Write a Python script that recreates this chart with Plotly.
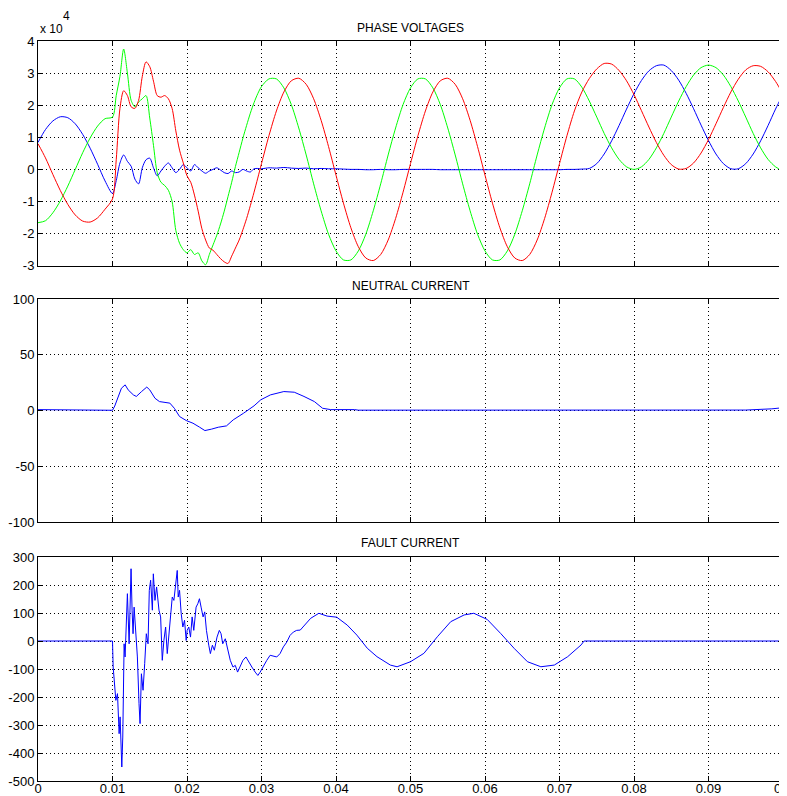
import plotly.graph_objects as go

# ---------------- data ----------------
# Phase voltages, time in ms, values in units of 1e4 V
V_T_PRE = [0, 1, 2, 3, 4, 5, 6, 7, 8, 9, 10]
V_T_TR = [10.5, 11.0, 11.5, 12.0, 12.5, 13.0, 13.5, 14.0, 14.5, 15.0,
          15.5, 16.0, 16.5, 17.0, 17.5, 18.0, 18.5, 19.0, 19.5, 20.0,
          20.5, 21.0, 21.5, 22.0, 22.5, 23.0, 23.5, 24.0, 24.5, 25.0,
          25.5, 26.0, 26.5, 27.0, 27.5, 28.0, 28.5, 29.0, 29.5, 30.0]
V_T_POST = [31, 32, 33, 34, 35, 36, 37, 38, 39, 40,
            41, 42, 43, 44, 45, 46, 47, 48, 49, 50,
            51, 52, 53, 54, 55, 56, 57, 58, 59, 60,
            61, 62, 63, 64, 65, 66, 67, 68, 69, 70,
            71, 72, 73, 74, 75, 76, 77, 78, 79, 80,
            81, 82, 83, 84, 85, 86, 87, 88, 89, 90,
            91, 92, 93, 94, 95, 96, 97, 98, 99, 100]

BLUE_PRE = [0.84, 1.24, 1.51, 1.64, 1.61, 1.42, 1.09, 0.66, 0.16, -0.36, -0.75]
BLUE_TR = [-0.35, 0.2, 0.45, 0.25, 0.1, -0.3, -0.45, 0.05, 0.3, 0.35,
           0.05, -0.2, -0.05, 0.1, 0.2, 0.05, -0.1, 0.0, 0.15, 0.05,
           -0.05, 0.15, 0.05, -0.05, -0.12, -0.05, 0.0, 0.05, -0.02, -0.1,
           -0.13, -0.05, -0.1, -0.08, 0.0, -0.05, -0.08, 0.02, 0.03, 0.02]
BLUE_POST = [0.05, 0.04, 0.06, 0.04, 0.03, 0.04, 0.02, 0.03, 0.02, 0.02,
             0.01, 0.0, 0.0, -0.01, -0.01, 0.0, -0.01, -0.01, 0.0, 0.0,
             0.0, 0.0, 0.0, -0.01, -0.01, -0.01, -0.01, -0.01, -0.01, -0.01,
             -0.01, -0.01, -0.01, -0.01, -0.01, -0.01, -0.01, -0.01, -0.01, -0.01,
             0.0, 0.0, 0.01, 0.03, 0.18, 0.48, 0.89, 1.37, 1.88, 2.36,
             2.77, 3.07, 3.23, 3.25, 3.08, 2.78, 2.37, 1.89, 1.38, 0.9,
             0.48, 0.18, 0.02, 0.02, 0.18, 0.48, 0.89, 1.37, 1.88, 2.34]

RED_PRE = [0.80, 0.36, -0.16, -0.66, -1.09, -1.42, -1.61, -1.64, -1.51, -1.24, -0.92]
RED_TR = [0.3, 1.9, 2.45, 2.3, 1.95, 1.9, 2.15, 2.9, 3.35, 3.2,
          2.75, 2.3, 2.25, 2.3, 2.2, 1.9, 1.2, 0.6, 0.2, -0.2,
          -0.4, -0.8, -1.3, -1.85, -2.2, -2.45, -2.52, -2.65, -2.78, -2.88,
          -2.93, -2.7, -2.45, -2.2, -1.88, -1.53, -1.13, -0.71, -0.27, 0.18]
RED_POST = [1.05, 1.82, 2.41, 2.76, 2.84, 2.65, 2.20, 1.53, 0.71, -0.18,
            -1.05, -1.82, -2.41, -2.76, -2.84, -2.65, -2.20, -1.53, -0.71, 0.18,
            1.05, 1.82, 2.41, 2.76, 2.84, 2.65, 2.20, 1.53, 0.71, -0.18,
            -1.05, -1.82, -2.41, -2.76, -2.84, -2.65, -2.20, -1.53, -0.71, 0.18,
            1.05, 1.82, 2.41, 2.83, 3.13, 3.30, 3.28, 3.08, 2.76, 2.33,
            1.83, 1.32, 0.84, 0.44, 0.15, 0.01, 0.03, 0.20, 0.51, 0.93,
            1.42, 1.93, 2.41, 2.81, 3.10, 3.23, 3.21, 3.04, 2.74, 2.35]

GREEN_PRE = [-1.66, -1.60, -1.35, -0.98, -0.52, 0.0, 0.52, 0.98, 1.35, 1.58, 1.63]
GREEN_TR = [2.3, 2.9, 3.75, 3.0, 2.15, 1.95, 2.1, 2.2, 2.3, 1.6,
            0.75, -0.1, -0.4, -0.5, -0.65, -1.0, -1.9, -2.3, -2.5, -2.6,
            -2.5, -2.65, -2.6, -2.85, -2.97, -2.65, -2.35, -2.05, -1.7, -1.3,
            -0.85, -0.4, 0.09, 0.53, 0.97, 1.37, 1.75, 2.08, 2.36, 2.58]
GREEN_POST = [2.82, 2.82, 2.54, 2.02, 1.29, 0.45, -0.45, -1.29, -2.02, -2.54,
              -2.82, -2.82, -2.54, -2.02, -1.29, -0.45, 0.45, 1.29, 2.02, 2.54,
              2.82, 2.82, 2.54, 2.02, 1.29, 0.45, -0.45, -1.29, -2.02, -2.54,
              -2.82, -2.82, -2.54, -2.02, -1.29, -0.45, 0.45, 1.29, 2.02, 2.54,
              2.82, 2.82, 2.56, 2.13, 1.63, 1.12, 0.67, 0.31, 0.08, 0.0,
              0.08, 0.31, 0.67, 1.12, 1.63, 2.13, 2.58, 2.94, 3.17, 3.25,
              3.17, 2.94, 2.58, 2.13, 1.63, 1.12, 0.67, 0.31, 0.08, -0.05]

# Neutral current (ms, A)
N_T = [0, 2.5, 3.0, 10.0, 10.3, 10.6, 11.2, 11.7, 12.1, 12.8,
       13.2, 13.9, 14.6, 15.0, 15.7, 16.3, 17.2, 17.7, 18.3, 19.0,
       19.9, 20.8, 21.7, 22.4, 23.3, 24.2, 25.3, 26.2, 27.6, 29.0,
       29.9, 31.2, 33.0, 34.4, 35.7, 37.1, 38.2, 39.3, 42.5, 43.0,
       95.0, 97.0, 98.5, 100.0]
N_V = [0.8, 0.8, 0.2, 0.2, 4, 9.6, 20, 23, 18.5, 14,
       12.6, 17, 21, 18.5, 11, 8, 7.5, 6.6, 2, -5.4,
       -9, -11.4, -15, -18, -16.7, -15, -13.8, -8.4, -2.4, 4.2,
       9.6, 14, 17, 16.4, 12.6, 8, 2, 0.8, 0.8, 0.3,
       0.4, 0.8, 1.5, 2.5]

# Fault current (ms, A)
F_T = [0, 10.0, 10.09, 10.22, 10.45, 10.67, 10.76, 10.89, 11.02, 11.11,
       11.25, 11.38, 11.47, 11.56, 11.69, 11.83, 12.0, 12.23, 12.36, 12.49,
       12.63, 12.76, 12.9, 13.12, 13.34, 13.56, 13.7, 13.88, 14.1, 14.32,
       14.54, 14.77, 14.94, 15.12, 15.35, 15.48, 15.7, 15.92, 16.24, 16.46,
       16.68, 16.9, 17.13, 17.35, 17.57, 17.8, 18.02, 18.24, 18.46, 18.69,
       18.82, 19.0, 19.22, 19.44, 19.67, 19.89, 20.02, 20.24, 20.47, 20.69,
       20.91, 21.22, 21.45, 21.67, 21.89, 22.16, 22.38, 22.61, 22.92, 23.14,
       23.41, 23.67, 24.03, 24.34, 24.57, 24.79, 25.14, 25.46, 25.81, 26.17,
       26.48, 26.79, 27.15, 27.51, 27.91, 28.26, 28.71, 29.15, 29.51, 29.82,
       30.27, 30.71, 31.16, 31.6, 32.05, 32.49, 32.94, 33.39, 33.83, 34.28,
       34.72, 35.2, 36.6, 37.7, 38.8, 40.1, 41.5, 42.8, 44.2, 45.5,
       47.3, 48.2, 50.0, 51.8, 53.6, 55.4, 57.2, 58.5, 60.3, 62.1,
       63.9, 65.7, 67.5, 69.3, 71.1, 72.9, 73.3, 100.0]
F_V = [0, 0, -93, -128, -212, -188, -295, -331, -271, -355,
       -450, -343, -93, -10, -57, 86, 169, -10, 145, 258,
       110, 26, 121, 26, -57, -224, -295, -117, -176, -81,
       26, -10, 181, 217, 110, 240, 145, 193, 110, 86,
       -69, 2, 50, -45, 14, 86, 157, 145, 193, 252,
       157, 181, 98, 50, 74, 2, 38, 50, 14, 86,
       38, 121, 133, 151, 121, 86, 104, 38, -15, -45,
       -15, -33, 14, 38, 26, -10, 8, -33, -69, -93,
       -87, -111, -87, -69, -57, -75, -93, -111, -123, -111,
       -87, -69, -51, -55, -57, -45, -21, -4, 20, 32,
       38, 39, 81, 99, 89, 85, 57, 21, -26, -56,
       -86, -92, -74, -44, 15, 69, 93, 99, 77, 27,
       -26, -74, -92, -86, -56, -14, 0, 0]

X_TICKS = [0, 0.01, 0.02, 0.03, 0.04, 0.05, 0.06, 0.07, 0.08, 0.09, 0.1]
X_LABELS = ["0", "0.01", "0.02", "0.03", "0.04", "0.05", "0.06", "0.07", "0.08", "0.09", "0.1"]
V_TICKS = [-3, -2, -1, 0, 1, 2, 3, 4]
V_LABELS = ["-3", "-2", "-1", "0", "1", "2", "3", "4"]
N_TICKS = [-100, -50, 0, 50, 100]
F_TICKS = [-500, -400, -300, -200, -100, 0, 100, 200, 300]
TITLES = ["PHASE VOLTAGES", "NEUTRAL CURRENT", "FAULT CURRENT"]

# ---------------- assemble ----------------
VT = V_T_PRE + V_T_TR + V_T_POST
BLUE = BLUE_PRE + BLUE_TR + BLUE_POST
RED = RED_PRE + RED_TR + RED_POST
GREEN = GREEN_PRE + GREEN_TR + GREEN_POST
assert len(VT) == len(BLUE) == len(RED) == len(GREEN)
assert len(N_T) == len(N_V) and len(F_T) == len(F_V)

SCALE = 1e4
t_s = [t / 1000 for t in VT]

fig = go.Figure()
for ys, col in [(BLUE, "#0000ff"), (GREEN, "#00ff00"), (RED, "#ff0000")]:
    fig.add_trace(go.Scatter(x=t_s, y=[v * SCALE for v in ys], mode="lines",
                             line=dict(color=col, width=1, shape="spline", smoothing=0.8),
                             xaxis="x", yaxis="y", showlegend=False, hoverinfo="skip"))
fig.add_trace(go.Scatter(x=[t / 1000 for t in N_T], y=N_V, mode="lines",
                         line=dict(color="#0000ff", width=1),
                         xaxis="x2", yaxis="y2", showlegend=False, hoverinfo="skip"))
fig.add_trace(go.Scatter(x=[t / 1000 for t in F_T], y=F_V, mode="lines",
                         line=dict(color="#0000ff", width=1),
                         xaxis="x3", yaxis="y3", showlegend=False, hoverinfo="skip"))

FAMILY = "Liberation Sans, Arial, sans-serif"
FONT = dict(family=FAMILY, size=13, color="black")
GRID_DASH = "1px,3px"

def xax(anchor, labels):
    return dict(range=[0, 0.1], domain=[0, 1], anchor=anchor,
                tickvals=X_TICKS, ticktext=X_LABELS, showticklabels=labels,
                showgrid=True, gridcolor="black", griddash=GRID_DASH, gridwidth=1,
                showline=True, linecolor="black", linewidth=1, mirror="ticks",
                ticks="inside", ticklen=5, tickcolor="black", zeroline=False,
                tickfont=FONT, automargin=False, ticklabeloverflow="allow",
                ticklabelstandoff=-5)

def yax(anchor, dom, rng, vals, labels):
    return dict(range=rng, domain=dom, anchor=anchor,
                tickvals=vals, ticktext=labels,
                showgrid=True, gridcolor="black", griddash=GRID_DASH, gridwidth=1,
                showline=True, linecolor="black", linewidth=1, mirror="ticks",
                ticks="inside", ticklen=5, tickcolor="black", zeroline=False,
                tickfont=FONT, automargin=False)

# The page body has an 8px margin, so the figure is drawn 8px smaller and
# shifted; plot area spans page pixels x 38..783, y 41..781.
H_PLOT = 740.0
def py(pix):  # page pixel from top -> paper y
    return (781 - pix) / H_PLOT

fig.update_layout(
    width=779, height=788,
    margin=dict(l=30, r=4, t=33, b=15),
    paper_bgcolor="white", plot_bgcolor="white",
    font=FONT,
    xaxis=xax("y", False),
    xaxis2=xax("y2", False),
    xaxis3=xax("y3", True),
    yaxis=yax("x", [py(265.7), 1.0], [-3 * SCALE, 4 * SCALE],
              [v * SCALE for v in V_TICKS], V_LABELS),
    yaxis2=yax("x2", [py(522), py(299)], [-100, 100], N_TICKS, [str(v) for v in N_TICKS]),
    yaxis3=yax("x3", [0, py(557)], [-500, 300], F_TICKS, [str(v) for v in F_TICKS]),
)

for title, ypix in zip(TITLES, [28, 286, 543]):
    fig.add_annotation(text=title, x=0.5, y=py(ypix), xref="paper", yref="paper",
                       showarrow=False, xanchor="center", yanchor="middle",
                       font=dict(family=FAMILY, size=12, color="black"))
fig.add_annotation(text="x 10", x=0, y=py(29), xref="paper", yref="paper",
                   showarrow=False, xanchor="left", yanchor="middle",
                   font=dict(family=FAMILY, size=12, color="black"))
fig.add_annotation(text="4", x=(61 - 38) / 745, y=py(16), xref="paper", yref="paper",
                   showarrow=False, xanchor="left", yanchor="middle",
                   font=dict(family=FAMILY, size=12, color="black"))

fig.write_html("out.html")
